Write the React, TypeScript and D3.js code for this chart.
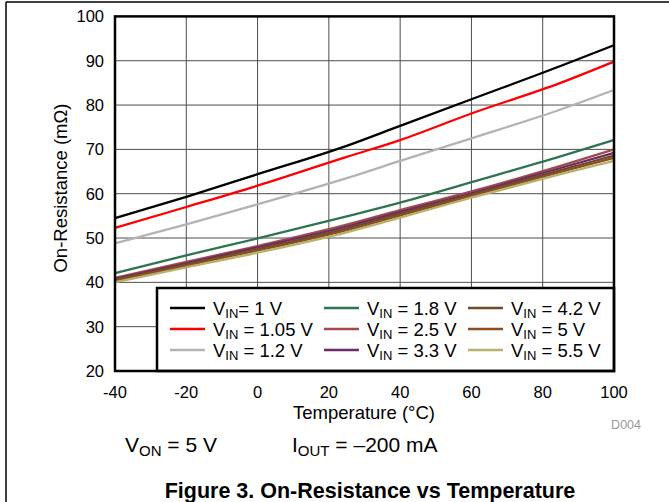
import React from "react";
import * as d3 from "d3";

const temps = [-40, -20, 0, 25, 40, 60, 85, 100];
const seriesNames = ["1", "1.05", "1.2", "1.8", "2.5", "3.3", "4.2", "5", "5.5"];
const v1_0 = [54.5, 59.3, 64.4, 70.8, 75.3, 81.3, 88.8, 93.5];
const v1_05 = [52.3, 57.0, 61.8, 68.3, 72.1, 78.1, 85.0, 89.8];
const v1_2 = [48.8, 53.1, 57.6, 63.5, 67.4, 72.5, 79.0, 83.4];
const v1_8 = [42.1, 46.1, 49.9, 54.9, 58.0, 62.6, 68.4, 72.1];
const v2_5 = [41.0, 44.6, 48.2, 53.0, 56.3, 60.5, 66.3, 70.0];
const v3_3 = [40.8, 44.3, 47.9, 52.6, 55.9, 60.1, 65.8, 69.2];
const v4_2 = [40.6, 44.0, 47.5, 52.2, 55.5, 59.8, 65.3, 68.6];
const v5_0 = [40.4, 43.8, 47.2, 51.8, 55.1, 59.5, 64.9, 68.1];
const v5_5 = [40.0, 43.4, 46.7, 51.3, 54.6, 59.1, 64.4, 67.4];
const seriesValues = [v1_0, v1_05, v1_2, v1_8, v2_5, v3_3, v4_2, v5_0, v5_5];
const colors = ["#000000", "#ff0000", "#b3b3b3", "#2f7451", "#a24a4c", "#6a2c68", "#6e4b2b", "#8a4f1f", "#b9b06c"];
const xTicks = [-40, -20, 0, 20, 40, 60, 80, 100];
const yTicks = [20, 30, 40, 50, 60, 70, 80, 90, 100];

const FONT = "'Liberation Sans', Arial, sans-serif";

export default function App() {
  const x = d3.scaleLinear().domain([-40, 100]).range([115, 614]);
  const y = d3.scaleLinear().domain([20, 100]).range([371, 16.4]);
  const line = d3
    .line<[number, number]>()
    .x((d) => x(d[0]))
    .y((d) => y(d[1]))
    .curve(d3.curveMonotoneX);

  const legendCols = [170, 324, 468];
  const legendRows = [308, 329, 350];

  return (
    <svg
      width={669}
      height={502}
      style={{ position: "absolute", left: 0, top: 0, background: "#fff" }}
      fontFamily={FONT}
    >
      <rect x={0} y={0} width={669} height={502} fill="#fff" />
      {/* outer frame */}
      <line x1={6} y1={2} x2={669} y2={2} stroke="#000" strokeWidth={1.5} />
      <line x1={6} y1={2} x2={6} y2={502} stroke="#000" strokeWidth={1.5} />

      {/* grid */}
      {xTicks.slice(1, -1).map((t) => (
        <line key={"gx" + t} x1={x(t)} x2={x(t)} y1={y(100)} y2={y(20)} stroke="#4d4d4d" strokeWidth={1} />
      ))}
      {yTicks.slice(1, -1).map((t) => (
        <line key={"gy" + t} x1={x(-40)} x2={x(100)} y1={y(t)} y2={y(t)} stroke="#4d4d4d" strokeWidth={1} />
      ))}

      {/* series */}
      {seriesValues.map((vals, i) => (
        <path
          key={"s" + i}
          d={line(temps.map((t, j) => [t, vals[j]] as [number, number])) || ""}
          fill="none"
          stroke={colors[i]}
          strokeWidth={2.3}
        />
      ))}

      {/* legend */}
      <rect x={157} y={288} width={457} height={83} fill="#fff" stroke="#000" strokeWidth={2.5} />
      {seriesNames.map((n, i) => {
        const col = Math.floor(i / 3);
        const row = i % 3;
        const lx = legendCols[col];
        const ly = legendRows[row];
        return (
          <g key={"l" + i}>
            <line x1={lx} x2={lx + 35} y1={ly} y2={ly} stroke={colors[i]} strokeWidth={2.5} />
            <text x={lx + 43} y={ly + 6.5} fontSize={18.5} fill="#000">
              V
              <tspan fontSize={13} dy={3}>IN</tspan>
              <tspan dy={-3}>{i === 0 ? "= " + n + " V" : " = " + n + " V"}</tspan>
            </text>
          </g>
        );
      })}

      {/* plot frame */}
      <rect x={x(-40)} y={y(100)} width={x(100) - x(-40)} height={y(20) - y(100)} fill="none" stroke="#000" strokeWidth={2.5} />

      {/* ticks */}
      {yTicks.map((t) => (
        <text key={"yt" + t} x={104} y={y(t) + 6} fontSize={16.5} textAnchor="end" fill="#000">
          {t}
        </text>
      ))}
      {xTicks.map((t) => (
        <text key={"xt" + t} x={x(t)} y={398} fontSize={16.5} textAnchor="middle" fill="#000">
          {t}
        </text>
      ))}

      <text x={364} y={419} fontSize={18.5} textAnchor="middle" fill="#000">
        Temperature (°C)
      </text>
      <text
        transform={`translate(67,188) rotate(-90)`}
        fontSize={18.5}
        textAnchor="middle"
        fill="#000"
      >
        On-Resistance (mΩ)
      </text>
      <text x={641} y={429} fontSize={12.5} textAnchor="end" fill="#999">
        D004
      </text>

      <text x={125} y={452} fontSize={21} fill="#000">
        V<tspan fontSize={15} dy={4}>ON</tspan>
        <tspan dy={-4}> = 5 V</tspan>
      </text>
      <text x={292} y={452} fontSize={21} fill="#000">
        I<tspan fontSize={15} dy={4}>OUT</tspan>
        <tspan dy={-4}> = –200 mA</tspan>
      </text>

      <text x={370} y={498} fontSize={21.5} fontWeight="bold" textAnchor="middle" fill="#000">
        Figure 3. On-Resistance vs Temperature
      </text>
    </svg>
  );
}
